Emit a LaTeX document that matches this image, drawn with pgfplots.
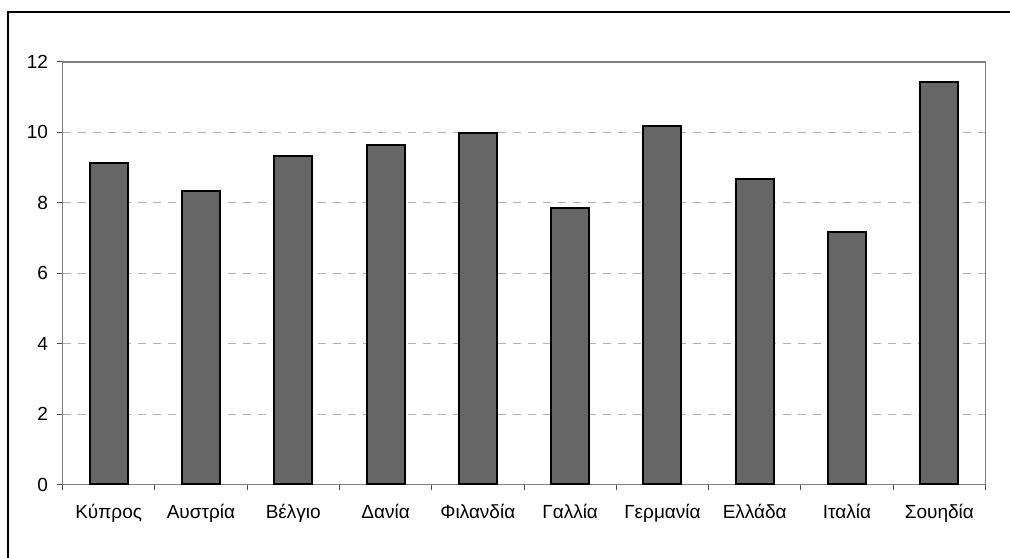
\documentclass[border=0pt]{standalone}
\usepackage{pgfplots}
\pgfplotsset{compat=1.18}
\usepackage{fontspec}
\setmainfont{Liberation Sans}
\definecolor{barfill}{HTML}{666666}
\definecolor{gridc}{HTML}{B0B0B0}
\definecolor{axc}{HTML}{808080}
\begin{document}
\fontsize{19bp}{22bp}\selectfont
\begin{tikzpicture}
\useasboundingbox (0,0) rectangle (1010bp,558bp);
\draw[line width=1.5bp] (8bp,-5bp) -- (8bp,546bp) -- (1015bp,546bp);
\begin{axis}[
  at={(62.5bp,73.5bp)}, anchor=south west,
  scale only axis, width=923bp, height=422.5bp,
  xmin=-0.5, xmax=9.5, ymin=0, ymax=12,
  ytick={0,2,...,12},
  xtick={0,...,9},
  xticklabels={Κύπρος,Αυστρία,Βέλγιο,Δανία,Φιλανδία,Γαλλία,Γερμανία,Ελλάδα,Ιταλία,Σουηδία},
  minor xtick={-0.5,0.5,...,9.5},
  xtick pos=lower, ytick pos=left,
  major x tick style={draw=none},
  tick align=outside,
  major tick length=6bp, minor tick length=6bp,
  tick style={axc!60!black, line width=1bp},
  ymajorgrids,
  grid style={gridc, line width=1bp, dash pattern=on 8bp off 7bp},
  axis line style={axc, line width=1.5bp},
  /pgf/number format/assume math mode=true,
  tick label style={font=\fontsize{19bp}{22bp}\selectfont},
  yticklabel style={xshift=-2bp},
  xticklabel style={yshift=-7bp},
  ybar, bar width=38bp,
]
\addplot[fill=barfill, draw=black, line width=2bp] coordinates {
(0,9.14) (1,8.34) (2,9.33) (3,9.65) (4,9.99) (5,7.86) (6,10.18) (7,8.68) (8,7.18) (9,11.42)};
\end{axis}
\end{tikzpicture}
\end{document}
